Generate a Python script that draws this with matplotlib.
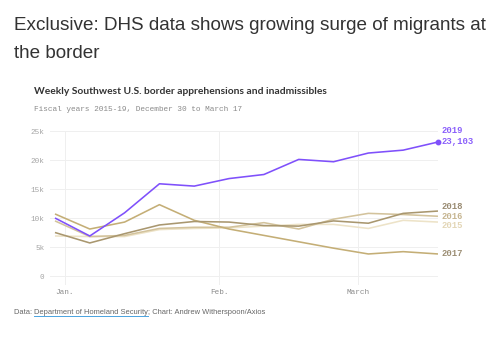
import matplotlib
matplotlib.use("Agg")
import matplotlib.pyplot as plt
import pandas as pd

weeks = pd.date_range("2018-12-30", "2019-03-17", freq="7D")
fy2019 = [10.0, 6.9, 10.9, 15.9, 15.5, 16.8, 17.5, 20.1, 19.7, 21.2, 21.7, 23.103]
fy2018 = [7.5, 5.7, 7.3, 8.8, 9.4, 9.3, 8.7, 8.6, 9.5, 9.1, 10.8, 11.2]
fy2017 = [10.7, 8.1, 9.3, 12.3, 9.6, 8.1, 7.0, 5.9, 4.8, 3.8, 4.2, 3.8]
fy2016 = [9.5, 6.8, 7.0, 8.2, 8.4, 8.4, 9.2, 8.1, 9.8, 10.8, 10.6, 10.3]
fy2015 = [6.9, 6.8, 6.8, 8.0, 8.2, 8.3, 8.6, 8.9, 8.9, 8.2, 9.6, 9.3]
series_names = ["2015", "2016", "2017", "2018", "2019"]
month_ticks = pd.to_datetime(["2019-01-01", "2019-02-01", "2019-03-01"])
month_labels = ["Jan.", "Feb.", "March"]
y_ticks = [0, 5, 10, 15, 20, 25]
y_labels = ["0", "5k", "10k", "15k", "20k", "25k"]

line_colors = {"2015": "#ede3c8", "2016": "#d3c39c", "2017": "#c4ae76",
               "2018": "#a9976f", "2019": "#7f50fb"}
label_colors = {"2015": "#e3d6b6", "2016": "#c6b590", "2017": "#9c8e74",
                "2018": "#998b72", "2019": "#8a5ffb"}
data = {"2015": fy2015, "2016": fy2016, "2017": fy2017, "2018": fy2018, "2019": fy2019}

W, H = 500, 343
fig = plt.figure(figsize=(W / 100, H / 100), dpi=100)
fig.patch.set_facecolor("white")

ax = fig.add_axes([50 / W, 1 - 285 / H, 388 / W, (285 - 131) / H])
ax.set_facecolor("white")
mono = "Liberation Mono"

for name in series_names:
    ax.plot(weeks, data[name], color=line_colors[name], lw=1.15,
            zorder=3 if name == "2019" else 2, solid_capstyle="butt")
ax.plot(weeks[-1:], fy2019[-1:], "o", color=line_colors["2019"], ms=3.2,
        zorder=4, clip_on=False)

ax.set_xlim(weeks[0] - pd.Timedelta(days=1), weeks[-1])
ax.set_ylim(-1.55, 25)
ax.set_yticks(y_ticks)
ax.set_yticklabels(y_labels, fontfamily=mono, fontsize=5.5, color="#a5a5a5")
ax.set_xticks(month_ticks)
ax.set_xticklabels(month_labels, fontfamily=mono, fontsize=5.5, color="#8a8a8a")
ax.tick_params(axis="both", length=0)
ax.tick_params(axis="y", pad=4)
ax.tick_params(axis="x", pad=3)
for s in ax.spines.values():
    s.set_visible(False)
for yv in y_ticks:
    ax.axhline(yv, color="#efefef", lw=0.7, zorder=0)
for xv in month_ticks:
    ax.axvline(xv, color="#efefef", lw=0.7, zorder=0)

def end_label(txt, ypix, color):
    fig.text(441 / W, 1 - ypix / H, txt, fontfamily=mono, fontsize=6.4,
             color=color, va="center", ha="left", fontweight="bold")

end_label("2019", 130.5, label_colors["2019"])
end_label("23,103", 141, label_colors["2019"])
end_label("2018", 206.5, label_colors["2018"])
end_label("2016", 216.5, label_colors["2016"])
end_label("2015", 225.5, label_colors["2015"])
end_label("2017", 253.5, label_colors["2017"])

fig.text(14 / W, 1 - 25 / H, "Exclusive: DHS data shows growing surge of migrants at",
         fontfamily="Liberation Sans", fontsize=13.55, color="#333333", va="center", ha="left")
fig.text(14 / W, 1 - 53 / H, "the border",
         fontfamily="Liberation Sans", fontsize=13.55, color="#333333", va="center", ha="left")
fig.text(34 / W, 1 - 92 / H, "Weekly Southwest U.S. border apprehensions and inadmissibles",
         fontfamily="Lato", fontweight="bold", fontsize=7.35, color="#333333",
         va="center", ha="left")
fig.text(34 / W, 1 - 110 / H, "Fiscal years 2015-19, December 30 to March 17",
         fontfamily=mono, fontsize=5.6, color="#8a8a8a", va="center", ha="left")

fig.canvas.draw()
r = fig.canvas.get_renderer()
x0 = 14
yf = 1 - 312 / H
parts = [("Data: ", False), ("Department of Homeland Security", True),
         ("; Chart: Andrew Witherspoon/Axios", False)]
for txt, ul in parts:
    t = fig.text(x0 / W, yf, txt, fontfamily="Liberation Sans", fontsize=5.45,
                 color="#666666", va="center", ha="left")
    bb = t.get_window_extent(r)
    if ul:
        fig.add_artist(plt.Line2D([bb.x0 / W, bb.x1 / W], [(bb.y0 - 0.5) / H] * 2,
                                  color="#4aa3df", lw=0.7))
    x0 = bb.x1

fig.savefig("out.png", dpi=100)
